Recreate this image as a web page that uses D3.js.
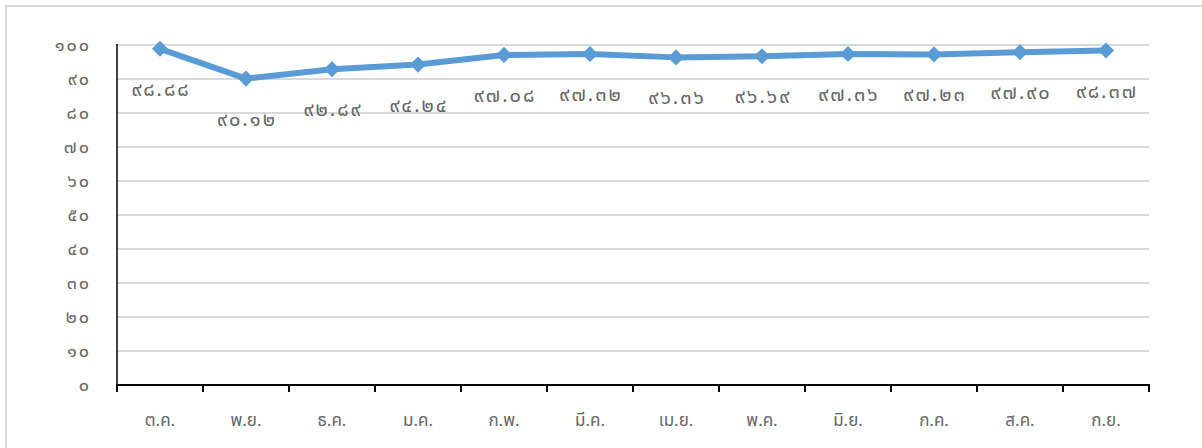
<!DOCTYPE html>
<html>
<head>
<meta charset="utf-8">
<script src="https://cdn.jsdelivr.net/npm/d3@7"></script>
<style>
  html, body { margin: 0; padding: 0; background: #fff; }
  svg { display: block; }
  text { font-family: "Noto Sans Thai", "Noto Sans Thai UI", "Leelawadee UI", Tahoma, "Noto Sans", sans-serif; }
</style>
</head>
<body>
<svg id="chart" width="1202" height="448"></svg>
<script>
// Monthly values, fiscal year October to September
const months = ["ต.ค.", "พ.ย.", "ธ.ค.", "ม.ค.", "ก.พ.", "มี.ค.", "เม.ย.", "พ.ค.", "มิ.ย.", "ก.ค.", "ส.ค.", "ก.ย."];
const values = [98.88, 90.12, 92.89, 94.24, 97.08, 97.32, 96.36, 96.69, 97.36, 97.23, 97.90, 98.37];
const yTicks = [0, 10, 20, 30, 40, 50, 60, 70, 80, 90, 100];

const thaiDigits = "๐๑๒๓๔๕๖๗๘๙";
const toThai = s => String(s).replace(/[0-9]/g, d => thaiDigits[+d]);

const svg = d3.select("#chart");
const W = 1202, H = 448;
const plotL = 117, plotR = 1149, plotT = 45, plotB = 385;

// outer chart frame
svg.append("rect")
  .attr("x", 6).attr("y", 6)
  .attr("width", W + 20).attr("height", H + 20)
  .attr("fill", "none").attr("stroke", "#d9d9d9").attr("stroke-width", 2);

const x = d3.scaleBand().domain(months).range([plotL, plotR]).paddingInner(0).paddingOuter(0);
const y = d3.scaleLinear().domain([0, 100]).range([plotB, plotT]);

// horizontal gridlines
svg.append("g")
  .selectAll("line")
  .data(yTicks.filter(t => t > 0))
  .join("line")
  .attr("x1", plotL).attr("x2", plotR)
  .attr("y1", d => y(d)).attr("y2", d => y(d))
  .attr("stroke", "#d9d9d9").attr("stroke-width", 2);

// y-axis labels
const yAxis = d3.axisLeft(y).tickValues(yTicks).tickSize(0).tickPadding(0).tickFormat(d => toThai(d));
const gy = svg.append("g").attr("transform", `translate(${plotL - 26},0)`).call(yAxis);
gy.select(".domain").remove();
gy.selectAll("text")
  .attr("fill", "#666")
  .attr("font-size", 18)
  .attr("letter-spacing", "2px")
  .attr("dy", "0.32em");

// vertical axis line
svg.append("line")
  .attr("x1", plotL).attr("x2", plotL).attr("y1", plotT - 1).attr("y2", plotB)
  .attr("stroke", "#000").attr("stroke-width", 1.5);

// x-axis with ticks at category boundaries
const boundaries = months.map(m => x(m)).concat([plotR]);
svg.append("line")
  .attr("x1", plotL - 1).attr("x2", plotR + 1).attr("y1", plotB).attr("y2", plotB)
  .attr("stroke", "#000").attr("stroke-width", 2);
svg.append("g")
  .selectAll("line")
  .data(boundaries)
  .join("line")
  .attr("x1", d => d).attr("x2", d => d)
  .attr("y1", plotB).attr("y2", plotB + 7)
  .attr("stroke", "#000").attr("stroke-width", 2);

svg.append("g")
  .selectAll("text")
  .data(months)
  .join("text")
  .attr("x", d => x(d) + x.bandwidth() / 2)
  .attr("y", 420)
  .attr("dy", "0.35em")
  .attr("text-anchor", "middle")
  .attr("fill", "#666")
  .attr("font-size", 17)
  .text(d => d);

const cx = (d, i) => x(months[i]) + x.bandwidth() / 2;

// series line
const line = d3.line().x((d, i) => cx(d, i)).y(d => y(d));
svg.append("path")
  .datum(values)
  .attr("d", line)
  .attr("fill", "none")
  .attr("stroke", "#5b9bd5")
  .attr("stroke-width", 6)
  .attr("stroke-linejoin", "round");

// diamond markers
const diamond = d3.symbol().type(d3.symbolSquare).size(130);
svg.append("g")
  .selectAll("path")
  .data(values)
  .join("path")
  .attr("d", diamond)
  .attr("transform", (d, i) => `translate(${cx(d, i)},${y(d)}) rotate(45)`)
  .attr("fill", "#5b9bd5");

// value labels below each point
svg.append("g")
  .selectAll("text")
  .data(values)
  .join("text")
  .attr("x", (d, i) => cx(d, i) + 1)
  .attr("y", d => y(d) + 40)
  .attr("dy", "0.35em")
  .attr("text-anchor", "middle")
  .attr("fill", "#666")
  .attr("font-size", 20)
  .attr("letter-spacing", "2px")
  .text(d => toThai(d.toFixed(2)));
</script>
</body>
</html>
